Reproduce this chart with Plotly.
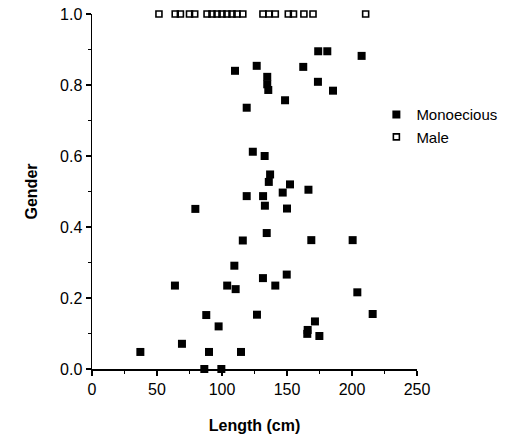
import plotly.graph_objects as go

# Monoecious plants: length (cm) and gender
mono_length = [110, 126.7, 134.8, 134.8, 135.6, 119, 174, 181, 207.4, 162.5,
               173.8, 185.4, 148.5, 123.7, 132.8, 137, 136, 152.3, 166.5, 119,
               131.6, 146.7, 133, 150, 79.5, 134.4, 116, 168.7, 200.5, 109.5,
               131.5, 149.8, 141, 63.8, 104, 110.5, 204.1, 87.9, 126.9, 215.9,
               97.4, 171.5, 165.9, 165.6, 174.9, 69.2, 37.2, 90, 114.6, 86.4, 99.5]
mono_gender = [0.84, 0.854, 0.823, 0.802, 0.786, 0.736, 0.895, 0.895, 0.882, 0.851,
               0.809, 0.784, 0.757, 0.612, 0.600, 0.548, 0.527, 0.520, 0.505, 0.487,
               0.487, 0.497, 0.460, 0.452, 0.451, 0.383, 0.362, 0.363, 0.363, 0.291,
               0.256, 0.266, 0.235, 0.235, 0.235, 0.225, 0.216, 0.152, 0.153, 0.155,
               0.120, 0.134, 0.110, 0.099, 0.093, 0.071, 0.048, 0.048, 0.048, 0.0, 0.0]

# Male plants: length (cm), gender always 1.0
male_length = [51.5, 64, 68, 75, 79, 88.5, 92.3, 96.2, 100, 103.8, 107.7, 111.5,
               116, 131.5, 136, 141, 151, 155, 163, 170, 210.5]
male_gender = [1.0] * len(male_length)

x_ticks = [0, 50, 100, 150, 200, 250]
y_ticks = [0.0, 0.2, 0.4, 0.6, 0.8, 1.0]

FONT = "Liberation Sans, Arial, Helvetica, sans-serif"

fig = go.Figure()
fig.add_trace(go.Scatter(
    x=mono_length, y=mono_gender, mode="markers", name="Monoecious",
    marker=dict(symbol="square", size=8, color="black"),
    cliponaxis=False))
fig.add_trace(go.Scatter(
    x=male_length, y=male_gender, mode="markers", name="Male",
    marker=dict(symbol="square-open", size=6, color="black", line=dict(width=1.6)),
    cliponaxis=False))

fig.update_layout(
    width=528, height=444,
    margin=dict(l=92, r=111, t=14, b=75, autoexpand=False),
    paper_bgcolor="white", plot_bgcolor="white",
    font=dict(family=FONT, size=16, color="black"),
    showlegend=True,
    legend=dict(x=0.875, y=0.763, xanchor="left", yanchor="top",
                font=dict(size=15), bgcolor="rgba(0,0,0,0)",
                itemsizing="trace", tracegroupgap=0),
    xaxis=dict(
        range=[0, 250], tickvals=x_ticks, ticktext=[str(v) for v in x_ticks],
        showgrid=False, zeroline=False, showline=True, linecolor="black", linewidth=1.5,
        ticks="outside", ticklen=5, tickwidth=1.5, tickcolor="black",
        minor=dict(dtick=25, ticks="outside", ticklen=3, tickwidth=1, tickcolor="black"),
        tickfont=dict(size=16), automargin=False, ticklabeloverflow="allow",
        title=dict(text="<b>Length (cm)</b>", font=dict(size=16), standoff=23)),
    yaxis=dict(
        range=[0, 1], tickvals=y_ticks, ticktext=[f"{v:.1f}" for v in y_ticks],
        showgrid=False, zeroline=False, showline=True, linecolor="black", linewidth=1.5,
        ticks="outside", ticklen=5, tickwidth=1.5, tickcolor="black",
        minor=dict(dtick=0.1, ticks="outside", ticklen=3, tickwidth=1, tickcolor="black"),
        tickfont=dict(size=16), automargin=False, ticklabeloverflow="allow",
        title=dict(text="<b>Gender</b>", font=dict(size=16), standoff=18)),
)

# remove the default page margin so the 528x444 figure fills the window exactly
fig.write_html("out.html",
               config={"displayModeBar": False, "staticPlot": True},
               post_script="document.body.style.margin='0';document.body.style.overflow='hidden';")
